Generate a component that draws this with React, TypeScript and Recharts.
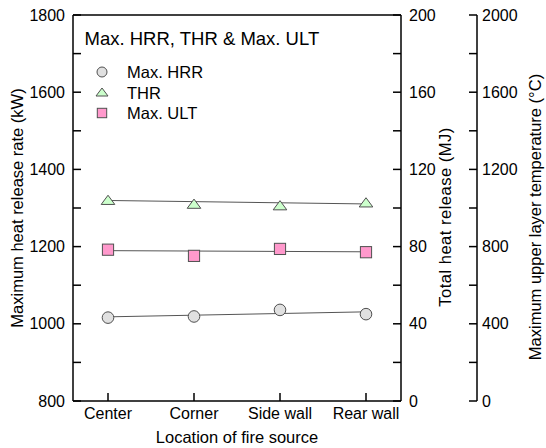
import React from 'react';
import { ComposedChart, Line, XAxis, YAxis } from 'recharts';

const FONT = '"Liberation Sans", Arial, sans-serif';

// categories
const locations = ['Center', 'Corner', 'Side wall', 'Rear wall'];

const maxHrr = [1016, 1019, 1036, 1025]; // kW
const totalHr = [103.4, 101.4, 100.6, 102.1]; // MJ
const maxUlt = [784, 752, 788, 771]; // °C

// straight fit lines, read at the two end categories
const hrrFit = [1018, null, null, 1031];
const thrFit = [103.9, null, null, 102.1];
const ultFit = [779, null, null, 773];

// axis ticks
const hrrTicks = [800, 900, 1000, 1100, 1200, 1300, 1400, 1500, 1600, 1700, 1800];
const thrTicks = [0, 20, 40, 60, 80, 100, 120, 140, 160, 180, 200];
const ultTicks = [0, 200, 400, 600, 800, 1000, 1200, 1400, 1600, 1800, 2000];

const rows = locations.map((loc, i) => ({
  loc,
  hrr: maxHrr[i],
  thr: totalHr[i],
  ult: maxUlt[i],
  hrrFit: hrrFit[i],
  thrFit: thrFit[i],
  ultFit: ultFit[i],
}));

const EDGE = '#505050';
const COL = {
  hrr: '#e0e0e0',
  thr: '#ccffcc',
  ult: '#ff99cc',
};

const CircleDot = (p: any) =>
  p.cx == null ? null : (
    <circle key={p.key} cx={p.cx} cy={p.cy} r={5.8} fill={COL.hrr} stroke={EDGE} strokeWidth={1} />
  );

const TriDot = (p: any) =>
  p.cx == null ? null : (
    <polygon
      key={p.key}
      points={`${p.cx - 6.8},${p.cy + 3} ${p.cx + 6.8},${p.cy + 3} ${p.cx},${p.cy - 6.2}`}
      fill={COL.thr}
      stroke={EDGE}
      strokeWidth={1}
    />
  );

const SquareDot = (p: any) =>
  p.cx == null ? null : (
    <rect key={p.key} x={p.cx - 5.6} y={p.cy - 5.6} width={11.2} height={11.2} fill={COL.ult} stroke={EDGE} strokeWidth={1} />
  );

// rotated axis title, baseline at viewBox.x + off
const vTitle = (value: string, off: number, shift: number, spacing = 0) => (props: any) => {
  const { x, y, height } = props.viewBox;
  const bx = x + off;
  const cy = y + height / 2 + shift;
  return (
    <text
      x={bx}
      y={cy}
      transform={`rotate(-90 ${bx} ${cy})`}
      textAnchor="middle"
      fontSize={16.5}
      letterSpacing={spacing}
      fontFamily={FONT}
      fill="#000"
    >
      {value}
    </text>
  );
};

const xTitle = (props: any) => {
  const { x, y, width } = props.viewBox;
  return (
    <text x={x + width / 2} y={y + 41.5} textAnchor="middle" fontSize={16.5} fontFamily={FONT} fill="#000">
      Location of fire source
    </text>
  );
};

const axisLine = { stroke: '#000', strokeWidth: 1.5 };
const tickStyle = { fill: '#000', fontSize: 16, fontFamily: FONT };

const LegendBox = () => (
  <svg width={546} height={448} style={{ position: 'absolute', left: 0, top: 0, pointerEvents: 'none' }}>
    <text x={84.5} y={45} fontSize={18.5} fontFamily={FONT} fill="#000">
      Max. HRR, THR &amp; Max. ULT
    </text>
    <circle cx={102} cy={72} r={5} fill={COL.hrr} stroke={EDGE} strokeWidth={1} />
    <text x={127} y={78} fontSize={16.5} fontFamily={FONT} fill="#000">Max. HRR</text>
    <polygon points="96,96 108,96 102,88" fill={COL.thr} stroke={EDGE} strokeWidth={1} />
    <text x={127} y={98.5} fontSize={16.5} fontFamily={FONT} fill="#000">THR</text>
    <rect x={97.3} y={108.3} width={9.4} height={9.4} fill={COL.ult} stroke={EDGE} strokeWidth={1} />
    <text x={127} y={119.3} fontSize={16.5} fontFamily={FONT} fill="#000">Max. ULT</text>
  </svg>
);

export default function App() {
  return (
    <div style={{ position: 'absolute', left: 0, top: 0, width: 546, height: 448, background: '#fff' }}>
      <ComposedChart width={546} height={448} data={rows} margin={{ top: 5, right: 0, bottom: 0, left: 0 }}>
        <XAxis
          xAxisId="top"
          dataKey="loc"
          orientation="top"
          height={10}
          padding={{ left: 35, right: 35 }}
          tick={false}
          tickSize={-8}
          axisLine={axisLine}
          tickLine={axisLine}
        />
        <XAxis
          dataKey="loc"
          height={47}
          padding={{ left: 35, right: 35 }}
          interval={0}
          tickSize={-8}
          tickMargin={15}
          axisLine={axisLine}
          tickLine={axisLine}
          tick={tickStyle}
          label={xTitle}
        />
        <YAxis
          yAxisId="hrr"
          orientation="left"
          width={73}
          type="number"
          domain={[800, 1800]}
          ticks={hrrTicks}
          interval={0}
          tickSize={-8}
          tickMargin={16}
          tickFormatter={(v: number) => (v % 200 === 0 ? String(v) : '')}
          axisLine={axisLine}
          tickLine={axisLine}
          tick={tickStyle}
          label={vTitle('Maximum heat release rate (kW)', 23, 0)}
        />
        <YAxis
          yAxisId="thr"
          orientation="right"
          width={76}
          type="number"
          domain={[0, 200]}
          ticks={thrTicks}
          interval={0}
          tickSize={-8}
          tickMargin={16}
          tickFormatter={(v: number) => (v % 40 === 0 ? String(v) : '')}
          axisLine={axisLine}
          tickLine={axisLine}
          tick={tickStyle}
          label={vTitle('Total heat release (MJ)', 50, 9, 0.5)}
        />
        <YAxis
          yAxisId="ult"
          orientation="right"
          width={69}
          type="number"
          domain={[0, 2000]}
          ticks={ultTicks}
          interval={0}
          tickSize={-8}
          tickMargin={13}
          tickFormatter={(v: number) => (v % 400 === 0 ? String(v) : '')}
          axisLine={axisLine}
          tickLine={axisLine}
          tick={tickStyle}
          label={vTitle('Maximum upper layer temperature (°C)', 64, 9)}
        />

        <Line yAxisId="hrr" dataKey="hrrFit" connectNulls stroke="#555" strokeWidth={1} dot={false} activeDot={false} isAnimationActive={false} />
        <Line yAxisId="thr" dataKey="thrFit" connectNulls stroke="#555" strokeWidth={1} dot={false} activeDot={false} isAnimationActive={false} />
        <Line yAxisId="ult" dataKey="ultFit" connectNulls stroke="#555" strokeWidth={1} dot={false} activeDot={false} isAnimationActive={false} />

        <Line yAxisId="hrr" dataKey="hrr" stroke="none" dot={CircleDot} activeDot={false} isAnimationActive={false} />
        <Line yAxisId="thr" dataKey="thr" stroke="none" dot={TriDot} activeDot={false} isAnimationActive={false} />
        <Line yAxisId="ult" dataKey="ult" stroke="none" dot={SquareDot} activeDot={false} isAnimationActive={false} />
      </ComposedChart>
      <LegendBox />
    </div>
  );
}
